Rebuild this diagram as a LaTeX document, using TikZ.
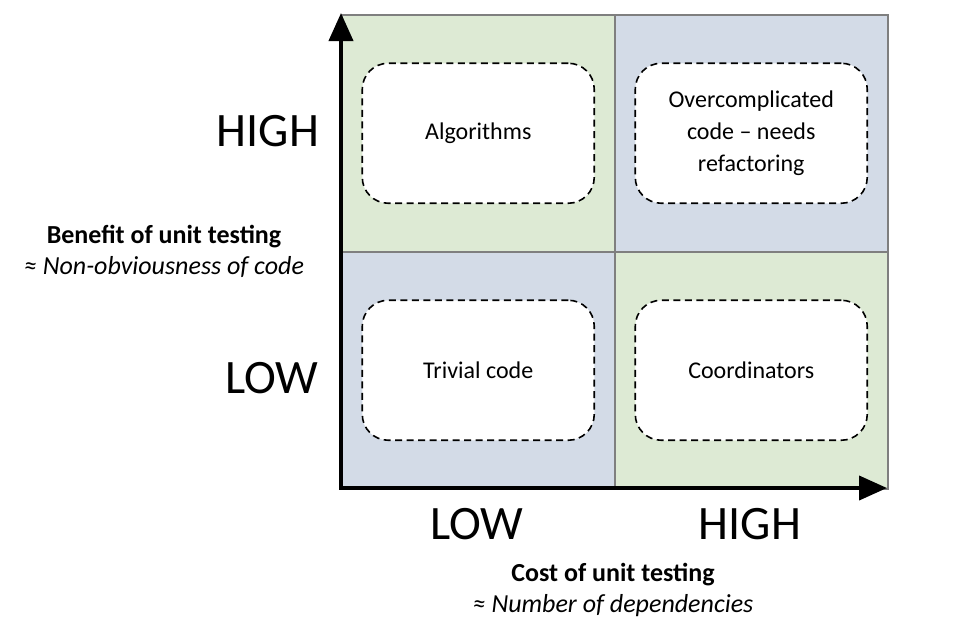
\documentclass[tikz,border=0pt]{standalone}
\usepackage{fontspec}
\setmainfont{Carlito}
\usetikzlibrary{arrows.meta}
\usetikzlibrary{positioning}

\definecolor{quadgreen}{HTML}{DDEAD4}
\definecolor{quadblue}{HTML}{D3DBE7}
\definecolor{quadline}{HTML}{7F7F7F}

\begin{document}
\begin{tikzpicture}[x=1pt,y=-1pt,
	quad/.style={draw=quadline,line width=1.5pt,minimum width=273pt,minimum height=237pt,inner sep=0pt},
	cluster/.style={draw,line width=1.6pt,dash pattern=on 7pt off 4.5pt,rounded corners=26pt,
		fill=white,minimum width=232pt,minimum height=140pt,font=\fontsize{24}{32}\selectfont,align=center},
	level/.style={font=\fontsize{48}{50}\selectfont},
	axislabel/.style={font=\fontsize{26}{31}\selectfont,align=center},
	axis/.style={line width=4pt,-{Triangle[length=28pt,width=24pt]}}]
	\useasboundingbox[fill=white] (0,0) rectangle (958,638);

	% quadrants
	\node [quad,fill=quadgreen,anchor=north west] (tl) at (341,14) {};
	\node [quad,fill=quadblue,anchor=north west] (tr) at (614,14) {};
	\node [quad,fill=quadblue,anchor=north west] (bl) at (341,251) {};
	\node [quad,fill=quadgreen,anchor=north west] (br) at (614,251) {};

	\node [cluster] (algo) at (tl) {Algorithms};
	\node [cluster] (over) at (tr) {Overcomplicated\\code -- needs\\refactoring};
	\node [cluster] (trivial) at (bl) {Trivial code};
	\node [cluster] (coord) at (br) {Coordinators};

	% axes
	\coordinate (O) at (341,488);
	\coordinate (Ytop) at (341,13);
	\coordinate (Xend) at (887,488);
	\draw [axis] ([yshift=2pt]O) -- (Ytop);
	\draw [axis] ([xshift=-2pt]O) -- (Xend);

	\node [level] (yhigh) at (268,131) {HIGH};
	\node [level] (ylow) at (272,378) {LOW};
	\node [level] (xlow) at (477,524) {LOW};
	\node [level] (xhigh) at (750,524) {HIGH};

	\node [axislabel] (ytitle) at (164,251) {\textbf{Benefit of unit testing}\\\textit{≈ Non-obviousness of code}};
	\node [axislabel] (xtitle) at (613,590) {\textbf{Cost of unit testing}\\\textit{≈ Number of dependencies}};
\end{tikzpicture}
\end{document}
